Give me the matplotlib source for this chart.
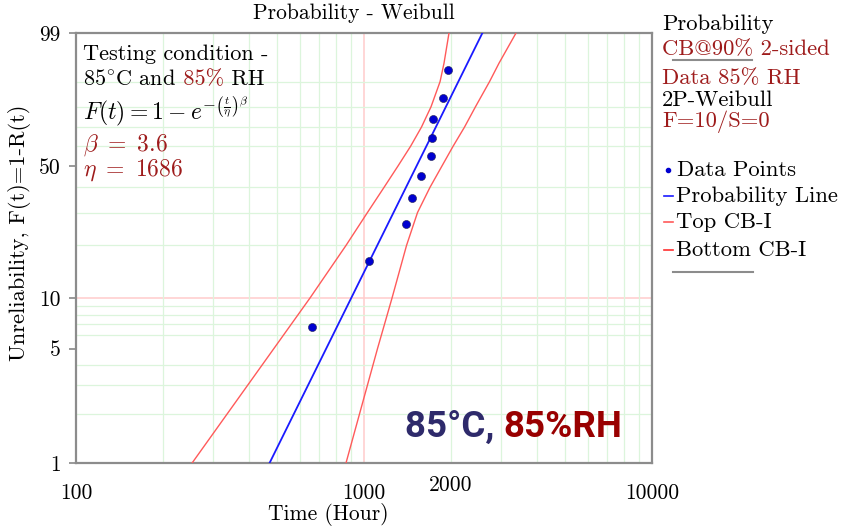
#!/usr/bin/env python3
"""Weibull probability plot, 85C / 85% RH test, with 90% 2-sided confidence bounds."""
import numpy as np
import matplotlib
matplotlib.use("Agg")
import matplotlib.pyplot as plt
from matplotlib.lines import Line2D

# failure times (hours) and median ranks (%)
fail_hours = [659, 1041, 1399, 1468, 1577, 1709, 1722, 1737, 1881, 1958]
median_rank_pct = [6.7, 16.3, 26.0, 35.6, 45.2, 54.8, 64.4, 74.0, 83.7, 93.3]

# fitted probability line (beta = 3.6, eta = 1686) end points
line_hours = [470, 2577]
line_pct = [1, 99]

# confidence bounds
top_cb_hours = [253, 649, 866, 1028, 1174, 1313, 1451, 1583, 1709, 1837, 1896, 1973]
top_cb_pct = [1, 10, 20, 30, 40, 50, 60, 70, 80, 90, 95, 99]
bot_cb_hours = [866, 1114, 1251, 1405, 1534, 1695, 1866, 2038, 2233, 2438, 2728, 2943, 3372]
bot_cb_pct = [1, 5, 10, 20, 30, 40, 50, 60, 70, 80, 90, 95, 99]

x_ticks = [100, 1000, 10000]
y_ticks = [1, 5, 10, 50, 99]
x_minor = [200, 300, 400, 500, 600, 700, 800, 900,
           2000, 3000, 4000, 5000, 6000, 7000, 8000, 9000]
y_minor = [2, 3, 4, 5, 6, 7, 8, 9, 20, 30, 40, 50, 60, 70, 80, 90]

W, H = 844, 529
DARKRED = "#9e1b1b"
SERIF = ["cmr10", "DejaVu Serif"]


def px(x, y):
    return x / W, 1 - y / H


def weib(f):
    f = np.clip(np.asarray(f, dtype=float), 1e-6, 100 - 1e-6)
    return np.log(-np.log(1 - f / 100.0))


def weib_inv(w):
    return 100.0 * (1 - np.exp(-np.exp(np.asarray(w, dtype=float))))


def main() -> None:
    plt.rcParams["font.family"] = SERIF
    plt.rcParams["mathtext.fontset"] = "cm"
    plt.rcParams["axes.unicode_minus"] = False

    fig = plt.figure(figsize=(W / 100, H / 100), dpi=100)
    ax = fig.add_axes([76 / W, 1 - 463 / H, (652 - 76) / W, (463 - 33) / H])

    ax.set_xscale("log")
    ax.set_yscale("function", functions=(weib, weib_inv))
    ax.set_xlim(100, 10000)
    ax.set_ylim(1, 99)

    ax.set_xticks(x_ticks)
    ax.set_xticklabels([str(v) for v in x_ticks])
    ax.set_xticks(x_minor, minor=True)
    ax.set_xticklabels([], minor=True)
    ax.set_yticks(y_ticks)
    ax.set_yticklabels([str(v) for v in y_ticks])
    ax.set_yticks(y_minor, minor=True)
    ax.set_yticklabels([], minor=True)
    ax.tick_params(axis="x", which="both", length=0, pad=15, labelsize=15.5)
    ax.tick_params(axis="y", which="major", length=5, width=1.2, color="#888888",
                   pad=6, labelsize=15.5)
    ax.tick_params(axis="y", which="minor", length=0)
    for tick, val in zip(ax.yaxis.get_major_ticks(), y_ticks):
        if val in (5, 10, 50):
            tick.tick1line.set_color("#ffb3b3")

    ax.grid(True, which="minor", color="#dcf5dc", lw=0.9)
    ax.axvline(1000, color="#ffcccc", lw=1.1, zorder=1)
    ax.axhline(10, color="#ffcccc", lw=1.1, zorder=1)
    for s in ax.spines.values():
        s.set_color("#8c8c8c")
        s.set_linewidth(1.6)

    ax.plot(top_cb_hours, top_cb_pct, color="#ff5a5a", lw=1.0, zorder=3)
    ax.plot(bot_cb_hours, bot_cb_pct, color="#ff5a5a", lw=1.0, zorder=3)
    ax.plot(line_hours, line_pct, color="#1a1aff", lw=1.3, zorder=4)
    ax.plot(fail_hours, median_rank_pct, "o", color="#0000d0", ms=5.8,
            mec="#202050", mew=0.4, zorder=5)

    # extra x label at 2000
    fig.text(*px(451, 485), "2000", fontsize=15.5, ha="center", va="center")

    fig.text(*px(354, 13), "Probability - Weibull", fontsize=15.5,
             ha="center", va="center")
    fig.text(*px(328, 514), "Time (Hour)", fontsize=15.5, ha="center", va="center")
    fig.text(*px(20, 233), "Unreliability, F(t)=1-R(t)", fontsize=16.2,
             rotation=90, ha="center", va="center")

    # annotation block, top left
    fs = 16
    fig.text(*px(83, 60), "Testing condition -", fontsize=fs, va="baseline")
    t = fig.text(*px(83, 85), "85$^{\\circ}$C and", fontsize=fs, va="baseline")
    t = ax.annotate(" 85%", xy=(1, 0), xycoords=t, va="bottom", ha="left",
                    fontsize=fs, color=DARKRED)
    ax.annotate(" RH", xy=(1, 0), xycoords=t, va="bottom", ha="left", fontsize=fs)
    fig.text(*px(83, 119),
             r"$F(t) = 1 - e^{-\left(\frac{t}{\eta}\right)^{\beta}}$",
             fontsize=17, va="baseline")
    fig.text(*px(83, 151), r"$\beta\ =\ 3.6$", fontsize=17, color=DARKRED,
             va="baseline")
    fig.text(*px(83, 176), r"$\eta\ =\ 1686$", fontsize=17, color=DARKRED,
             va="baseline")

    # big condition label
    t = fig.text(*px(405, 437), "85°C, ", fontsize=26.5, family="Roboto",
                 weight="bold", color="#2e2a6b", va="baseline")
    ax.annotate("85%RH", xy=(1, 0), xycoords=t, va="bottom", ha="left",
                fontsize=26.5, family="Roboto", weight="bold", color="#990000")

    # legend block on the right
    lx = 662
    lf = 16.3
    fig.text(*px(lx, 30), "Probability", fontsize=lf, va="baseline")
    fig.text(*px(lx, 55), "CB@90% 2-sided", fontsize=lf, color=DARKRED,
             va="baseline")
    fig.add_artist(Line2D([673 / W, 752 / W], [1 - 60 / H] * 2,
                          color="#8c8c8c", lw=1.5))
    fig.text(*px(lx, 84), "Data 85% RH", fontsize=lf, color=DARKRED,
             va="baseline")
    fig.text(*px(lx, 106), "2P-Weibull", fontsize=lf, va="baseline")
    fig.text(*px(lx, 127), "F=10/S=0", fontsize=lf, color=DARKRED,
             va="baseline")

    fig.add_artist(Line2D([668 / W], [1 - 170 / H], marker="o", ms=3,
                          color="#0000d0", lw=0))
    fig.text(*px(677, 176), "Data Points", fontsize=lf, va="baseline")
    rows = [(196, "#1a1aff", "Probability Line"),
            (222, "#ff5a5a", "Top CB-I"),
            (250, "#ff3030", "Bottom CB-I")]
    for yy, col, label in rows:
        fig.add_artist(Line2D([664 / W, 673 / W], [1 - yy / H] * 2,
                              color=col, lw=1.2))
        fig.text(*px(676, yy + 6), label, fontsize=lf, va="baseline")
    fig.add_artist(Line2D([673 / W, 753 / W], [1 - 272 / H] * 2,
                          color="#8c8c8c", lw=1.5))

    fig.savefig("out.png", dpi=100)


if __name__ == "__main__":
    main()
